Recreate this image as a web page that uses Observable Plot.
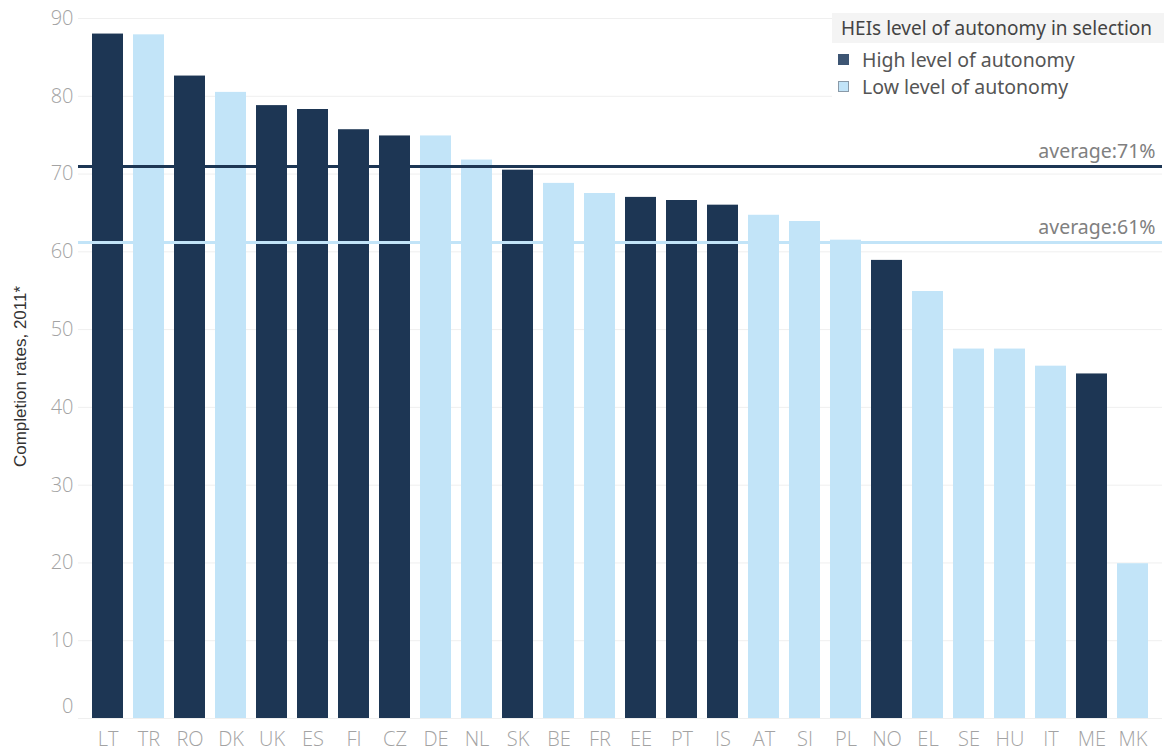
<!DOCTYPE html>
<html>
<head>
<meta charset="utf-8">
<script src="https://cdn.jsdelivr.net/npm/d3@7"></script>
<script src="https://cdn.jsdelivr.net/npm/@observablehq/plot@0.6"></script>
<style>
  html, body { margin: 0; padding: 0; background: #fff; }
  #wrap { position: relative; width: 1164px; height: 751px; overflow: hidden; }
  #legend { position: absolute; left: 832px; top: 8px; width: 332px; height: 89px; background: #fff;
            font-family: "Noto Sans", sans-serif; color: #555; }
  #legend .title { background: #f4f4f4; height: 30px; line-height: 30px; padding-left: 9px; font-size: 19px; color: #444; margin-top: 5px; }
  #legend .item { position: relative; height: 27px; line-height: 27px; font-size: 19.5px; padding-left: 30px; }
  #legend .item.first { margin-top: 3px; }
  #legend .sw { position: absolute; left: 6px; top: 8px; width: 11px; height: 11px; box-sizing: border-box; }
</style>
</head>
<body>
<div id="wrap"></div>
<script>
const countries = ["LT","TR","RO","DK","UK","ES","FI","CZ","DE","NL","SK","BE","FR","EE","PT","IS","AT","SI","PL","NO","EL","SE","HU","IT","ME","MK"];
const rates = [88.0,87.9,82.6,80.5,78.8,78.3,75.7,74.9,74.9,71.8,70.5,68.8,67.5,67.0,66.6,66.0,64.7,63.9,61.5,58.9,54.9,47.5,47.5,45.3,44.3,19.9];
const autonomy = ["High","Low","High","Low","High","High","High","High","Low","Low","High","Low","Low","High","High","High","Low","Low","Low","High","Low","Low","Low","Low","High","Low"];
const levels = ["High","Low"];
const levelNames = ["High level of autonomy","Low level of autonomy"];
const levelColors = ["#1d3654","#c2e4f8"];
const yTicks = [0,10,20,30,40,50,60,70,80,90];

const data = countries.map((c, i) => ({country: c, value: rates[i], level: autonomy[i]}));
const avgs = levels.map(l => {
  const m = d3.mean(data.filter(d => d.level === l), d => d.value);
  return {level: l, value: m, label: "average:" + Math.round(m) + "%"};
});

const tickFont = "Open Sans, sans-serif";

const chart = Plot.plot({
  width: 1164,
  height: 751,
  marginTop: 18,
  marginBottom: 33,
  marginLeft: 78,
  marginRight: 2,
  style: {fontFamily: "Noto Sans, sans-serif", background: "#fff"},
  x: {domain: countries, padding: 0.24, label: null},
  y: {domain: [0, 90], label: null},
  color: {domain: levels, range: levelColors},
  marks: [
    Plot.gridY(yTicks, {stroke: "#efefef", strokeOpacity: 1}),
    Plot.barY(data, {x: "country", y: "value", fill: "level"}),
    Plot.ruleY(avgs, {y: "value", stroke: "level", strokeWidth: 3}),
    Plot.text(avgs, {y: "value", text: "label", frameAnchor: "right", textAnchor: "end", dx: -7, dy: -15, fill: "#808080", fontSize: 19.5, fontFamily: "Noto Sans, sans-serif"}),
    Plot.axisY(yTicks.filter(t => t > 0), {tickSize: 0, tickPadding: 5, fontSize: 20, fontWeight: 300, fill: "#a3a3a3", fontFamily: tickFont, label: null}),
    Plot.axisY([0], {tickSize: 0, tickPadding: 5, fontSize: 20, fontWeight: 300, fill: "#a3a3a3", fontFamily: tickFont, dy: -12, label: null}),
    Plot.axisX({tickSize: 0, tickPadding: 13, fontSize: 20, fontWeight: 300, fill: "#a3a3a3", fontFamily: tickFont, label: null}),
    Plot.text(["Completion rates, 2011*"], {frameAnchor: "left", textAnchor: "middle", rotate: -90, dx: -58, dy: 8, fill: "#333", fontSize: 17, fontFamily: "Liberation Sans Narrow, sans-serif"})
  ]
});
document.getElementById("wrap").appendChild(chart);

const legend = document.createElement("div");
legend.id = "legend";
const title = document.createElement("div");
title.className = "title";
title.textContent = "HEIs level of autonomy in selection";
legend.appendChild(title);
levels.forEach((l, i) => {
  const item = document.createElement("div");
  item.className = "item" + (i === 0 ? " first" : "");
  const sw = document.createElement("span");
  sw.className = "sw";
  sw.style.background = i === 0 ? "#3d5573" : levelColors[i];
  sw.style.border = i === 0 ? "none" : "1px solid #8a9aa8";
  item.appendChild(sw);
  item.appendChild(document.createTextNode(levelNames[i]));
  legend.appendChild(item);
});
document.getElementById("wrap").appendChild(legend);
</script>
</body>
</html>
